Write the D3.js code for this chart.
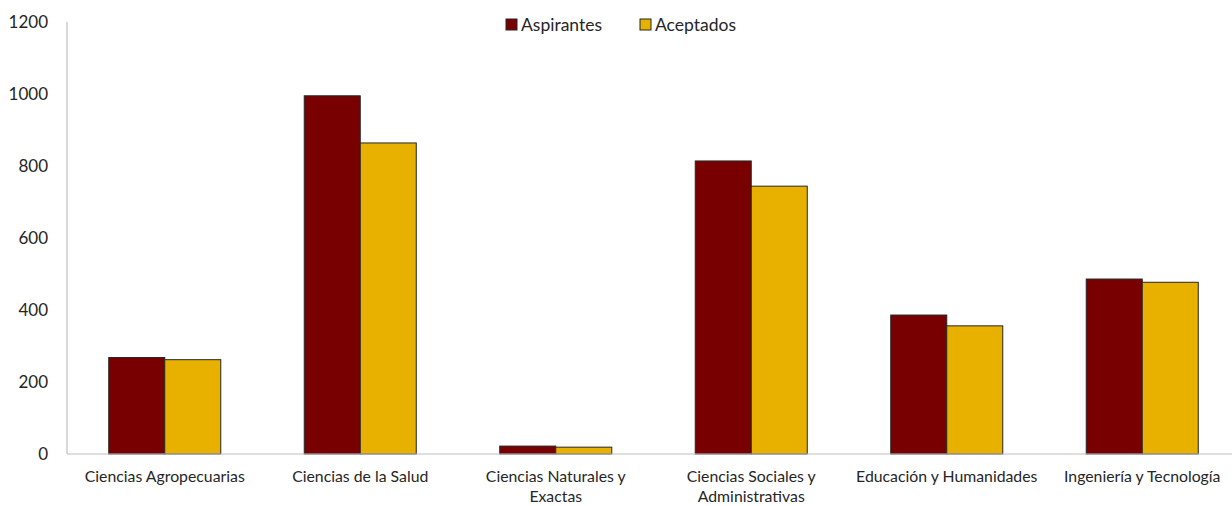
<!DOCTYPE html>
<html><head><meta charset="utf-8">
<script src="https://cdn.jsdelivr.net/npm/d3@7"></script>
<style>body{margin:0;background:#fff}svg{display:block;font-family:Lato,"Open Sans",sans-serif}</style>
</head><body><svg id="c" width="1232" height="506"></svg>
<script>
const categories = [["Ciencias Agropecuarias"],["Ciencias de la Salud"],["Ciencias Naturales y","Exactas"],["Ciencias Sociales y","Administrativas"],["Educación y Humanidades"],["Ingeniería y Tecnología"]];
const aspirantes = [268, 995, 22, 814, 386, 486];
const aceptados = [262, 864, 19, 744, 356, 477];
const yTicks = [0,200,400,600,800,1000,1200];
const seriesNames = ["Aspirantes","Aceptados"];
const colors = ["#780000","#E8B100"];

const svg = d3.select("#c");
const x = d3.scaleBand().domain(d3.range(categories.length)).range([67,1240]).paddingInner(0.427).paddingOuter(0.2135);
const y = d3.scaleLinear().domain([0,1200]).range([454,22]);
const xs = d3.scaleBand().domain([0,1]).range([0,x.bandwidth()]);

svg.append("line").attr("x1",67).attr("x2",67).attr("y1",y(1200)).attr("y2",y(0)).attr("stroke","#BFBFBF").attr("stroke-width",1.2);
svg.selectAll(".yt").data(yTicks).join("text").attr("x",48).attr("y",d=>y(d)).attr("dy","0.35em")
  .attr("text-anchor","end").attr("font-size",17).attr("fill","#262626").text(d=>d);

const data = [aspirantes, aceptados];
data.forEach((vals,si)=>{
  svg.append("g").selectAll("rect").data(vals).join("rect")
    .attr("x",(d,i)=>x(i)+xs(si)).attr("width",xs.bandwidth())
    .attr("y",d=>y(d)).attr("height",d=>y(0)-y(d))
    .attr("fill",colors[si]).attr("stroke","#262626").attr("stroke-width",1);
});
svg.append("line").attr("x1",67).attr("x2",1232).attr("y1",y(0)).attr("y2",y(0)).attr("stroke","#BFBFBF").attr("stroke-width",1.2);

svg.selectAll(".xl").data(categories).join("text")
  .attr("text-anchor","middle").attr("font-size",15.8).attr("fill","#262626")
  .attr("transform",(d,i)=>`translate(${x(i)+x.bandwidth()/2},482)`)
  .each(function(d){ d3.select(this).selectAll("tspan").data(d).join("tspan").attr("x",0).attr("dy",(t,j)=>j?20:0).text(t=>t); });

const lx = [506, 640];
seriesNames.forEach((n,i)=>{
  svg.append("rect").attr("x",lx[i]).attr("y",19).attr("width",11).attr("height",11).attr("fill",colors[i]).attr("stroke","#262626");
  svg.append("text").attr("x",lx[i]+15).attr("y",25).attr("dy","0.35em").attr("font-size",17.5).attr("fill","#262626").text(n);
});
</script></body></html>
